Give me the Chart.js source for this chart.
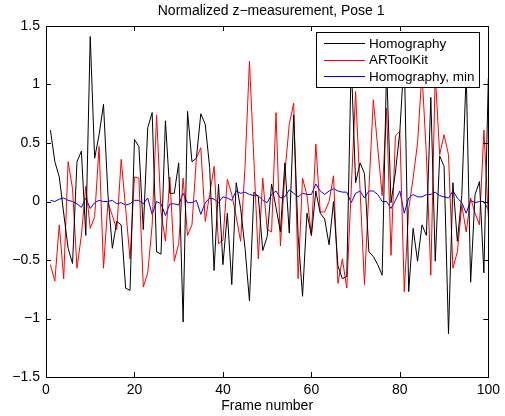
<!DOCTYPE html>
<html>
<head>
<meta charset="utf-8">
<script src="https://cdn.jsdelivr.net/npm/chart.js@4.4.0/dist/chart.umd.min.js"></script>
<style>
  html, body { margin: 0; padding: 0; background: #fff; }
  #wrap { width: 505px; height: 416px; }
</style>
</head>
<body>
<div id="wrap"><canvas id="chartZ"></canvas></div>
<script>
// frame numbers (x)
var frames = [1,2,3,4,5,6,7,8,9,10,11,12,13,14,15,16,17,18,19,20,
  21,22,23,24,25,26,27,28,29,30,31,32,33,34,35,36,37,38,39,40,
  41,42,43,44,45,46,47,48,49,50,51,52,53,54,55,56,57,58,59,60,
  61,62,63,64,65,66,67,68,69,70,71,72,73,74,75,76,77,78,79,80,
  81,82,83,84,85,86,87,88,89,90,91,92,93,94,95,96,97,98,99,100];

var homography = [0.61,0.34,0.21,-0.1,-0.4,-0.53,0.34,0.43,-0.29,1.41,
  0.37,0.57,0.83,0.06,-0.4,-0.17,-0.2,-0.74,-0.76,0.53,
  0.47,-0.24,0.63,0.76,-0.43,-0.45,0.69,0.07,0.07,0.33,
  -1.03,0.77,0.34,0.37,0.75,0.66,0.29,-0.59,0.15,-0.54,
  -0.1,-0.71,0.16,-0.06,-0.4,-0.85,0.08,0.04,-0.42,-0.3,
  0.15,-0.05,-0.26,0.33,-0.27,0.74,-0.29,-0.81,-0.1,-0.29,
  0.09,-0.1,-0.15,-0.37,0.0,-0.55,-0.66,-0.64,1.2,0.16,
  0.33,0.24,-0.43,-0.47,-0.54,-0.63,1.15,-0.01,0.25,0.6,
  1.25,-0.77,-0.23,-0.51,-0.2,-0.29,0.89,-0.51,0.39,0.3,
  -1.13,0.16,-0.34,0.05,1.1,-0.69,0.06,0.17,-0.61,1.05];

var artoolkit = [-0.54,-0.68,-0.2,-0.66,0.34,0.11,-0.57,-0.29,0.13,-0.23,
  -0.13,0.47,-0.57,-0.01,-0.12,-0.24,0.36,-0.06,-0.49,0.21,
  0.2,-0.73,-0.61,-0.2,0.74,-0.09,-0.34,0.21,-0.51,-0.36,
  0.2,-0.29,-0.2,0.37,0.46,-0.17,0.06,0.3,-0.36,-0.33,
  0.19,0.06,-0.13,-0.34,0.3,1.2,0.35,-0.49,0.2,-0.24,
  -0.26,0.76,-0.38,0.24,0.66,0.84,-0.66,0.2,0.05,-0.29,
  0.49,-0.09,-0.09,0.0,0.22,-0.7,-0.49,-0.74,0.1,0.94,
  0.1,-0.71,0.1,0.87,0.46,0.05,0.8,-0.46,0.56,0.6,
  -0.77,-0.06,0.2,0.5,1.1,0.4,-0.63,1.1,0.4,0.57,
  0.4,-0.57,-0.43,-0.03,-0.26,0.03,-0.1,-0.2,0.61,-0.13];

var homographyMin = [0.01,0.0,0.02,0.03,0.01,0.0,-0.02,-0.05,0.03,-0.06,
  -0.01,0.01,0.0,0.0,0.01,-0.02,-0.01,-0.03,-0.02,0.01,
  0.01,-0.02,0.03,-0.11,0.0,-0.02,-0.12,-0.02,-0.02,-0.03,
  0.07,-0.01,-0.01,0.01,-0.11,-0.01,0.03,0.02,-0.01,0.04,
  0.03,0.01,0.09,0.07,0.08,0.06,0.05,0.05,0.01,-0.01,
  0.06,0.09,0.03,0.04,0.1,0.07,0.04,0.07,0.06,0.06,
  0.15,0.09,0.06,0.09,0.11,0.09,0.08,0.08,-0.01,0.07,
  0.09,0.03,0.09,0.09,0.06,0.0,0.0,-0.06,0.01,0.09,
  -0.1,0.03,0.06,0.04,0.04,0.06,0.06,0.08,0.05,0.04,
  0.03,0.09,0.03,-0.01,-0.1,0.01,-0.01,0.0,0.0,-0.07];

var xTicks = [0, 20, 40, 60, 80, 100];
var yTicks = [-1.5, -1, -0.5, 0, 0.5, 1, 1.5];
var yTickLabels = ['\u22121.5', '\u22121', '\u22120.5', '0', '0.5', '1', '1.5'];

var seriesNames = ['Homography', 'ARToolKit', 'Homography, min'];
var seriesColors = ['#000000', '#ff0000', '#0000ff'];
var chartTitle = 'Normalized z\u2212measurement, Pose 1';

var FONT = '"Liberation Sans", Arial, Helvetica, sans-serif';

// MATLAB style box, inward ticks, title over the axes and boxed legend
var matlabPlugin = {
  id: 'matlabBox',
  afterDraw: function (chart) {
    var ctx = chart.ctx;
    var a = chart.chartArea;
    var xs = chart.scales.x, ys = chart.scales.y;
    ctx.save();
    ctx.strokeStyle = '#000';
    ctx.lineWidth = 1;
    ctx.beginPath();
    for (var i = 0; i < xTicks.length; i++) {
      var px = Math.round(xs.getPixelForValue(xTicks[i])) + 0.5;
      ctx.moveTo(px, a.bottom); ctx.lineTo(px, a.bottom - 5);
      ctx.moveTo(px, a.top); ctx.lineTo(px, a.top + 5);
    }
    for (var j = 0; j < yTicks.length; j++) {
      var py = Math.round(ys.getPixelForValue(yTicks[j])) + 0.5;
      ctx.moveTo(a.left, py); ctx.lineTo(a.left + 5, py);
      ctx.moveTo(a.right, py); ctx.lineTo(a.right - 5, py);
    }
    ctx.stroke();
    ctx.strokeRect(Math.round(a.left) + 0.5, Math.round(a.top) + 0.5,
      Math.round(a.right - a.left), Math.round(a.bottom - a.top));

    // title
    ctx.fillStyle = '#000';
    ctx.font = '14px ' + FONT;
    ctx.textAlign = 'center';
    ctx.textBaseline = 'middle';
    ctx.fillText(chartTitle, (a.left + a.right) / 2 + 4, 11);

    // legend
    var lx = 316, ly = 32, lw = 163, lh = 55;
    ctx.fillStyle = '#fff';
    ctx.fillRect(lx, ly, lw, lh);
    ctx.strokeRect(lx + 0.5, ly + 0.5, lw, lh);
    ctx.font = '13.5px ' + FONT;
    ctx.textAlign = 'left';
    for (var k = 0; k < seriesNames.length; k++) {
      var ry = ly + 11 + k * 16.6;
      ctx.strokeStyle = seriesColors[k];
      ctx.beginPath();
      ctx.moveTo(324, Math.round(ry) + 0.5);
      ctx.lineTo(365, Math.round(ry) + 0.5);
      ctx.stroke();
      ctx.fillStyle = '#000';
      ctx.fillText(seriesNames[k], 369, ry + 1);
    }
    ctx.restore();
  }
};

var ctx = document.getElementById('chartZ').getContext('2d');
var datasets = [];
var seriesData = [homography, artoolkit, homographyMin];
for (var s = 0; s < seriesData.length; s++) {
  datasets.push({
    label: seriesNames[s],
    data: seriesData[s],
    borderColor: seriesColors[s],
    borderWidth: 1,
    pointRadius: 0,
    tension: 0,
    fill: false
  });
}

var myChart = new Chart(ctx, {
  type: 'line',
  data: { labels: frames, datasets: datasets },
  options: {
    responsive: true,
    maintainAspectRatio: false,
    animation: false,
    events: [],
    layout: { padding: { left: 0, right: 16, top: 26, bottom: 0 } },
    plugins: {
      legend: { display: false },
      tooltip: { enabled: false },
      title: { display: false }
    },
    scales: {
      x: {
        type: 'linear',
        min: 0, max: 100,
        afterFit: function (scale) { scale.height = 39; },
        afterBuildTicks: function (scale) {
          scale.ticks = xTicks.map(function (v) { return { value: v }; });
        },
        grid: { display: false, drawTicks: false },
        border: { display: false },
        ticks: {
          color: '#000', padding: 5, maxRotation: 0,
          font: { family: FONT, size: 14 }
        },
        title: {
          display: true, text: 'Frame number', color: '#000',
          font: { family: FONT, size: 14 },
          padding: { top: 0, bottom: 1 }
        }
      },
      y: {
        min: -1.5, max: 1.5,
        afterFit: function (scale) { scale.width = 46; },
        afterBuildTicks: function (scale) {
          scale.ticks = yTicks.map(function (v) { return { value: v }; });
        },
        grid: { display: false, drawTicks: false },
        border: { display: false },
        ticks: {
          color: '#000', padding: 6,
          font: { family: FONT, size: 14 },
          callback: function (value) {
            var idx = yTicks.indexOf(value);
            return idx >= 0 ? yTickLabels[idx] : '';
          }
        }
      }
    }
  },
  plugins: [matlabPlugin]
});
</script>
</body>
</html>
